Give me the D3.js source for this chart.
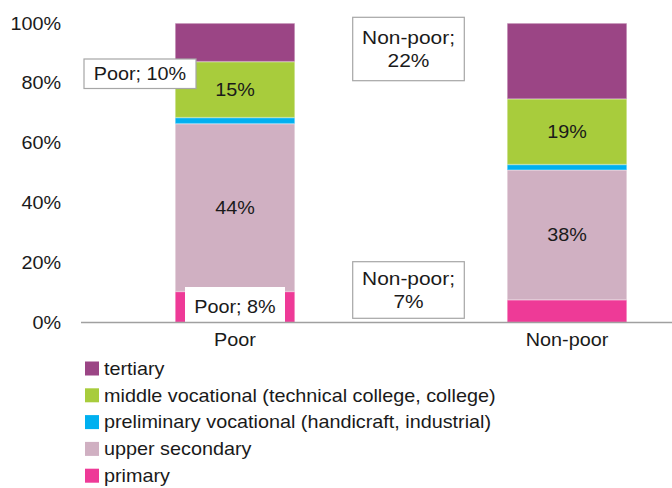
<!DOCTYPE html>
<html>
<head>
<meta charset="utf-8">
<script src="https://cdn.jsdelivr.net/npm/d3@7"></script>
<style>
  html, body { margin: 0; padding: 0; background: #fff; }
  svg { display: block; font-family: "Liberation Sans", Arial, sans-serif; }
</style>
</head>
<body>
<svg id="chart" width="672" height="488"></svg>
<script>
// Education level shares, poor vs non-poor households (per cent of respondents)
const groups = ["Poor", "Non-poor"];
const levels = [
  "primary",
  "upper secondary",
  "preliminary vocational (handicraft, industrial)",
  "middle vocational (technical college, college)",
  "tertiary"
];
const primary = [8.1, 6.6];
const upperSecondary = [43.8, 37.8];
const preliminaryVocational = [1.6, 1.6];
const middleVocational = [14.6, 19.1];
const tertiary = [10.0, 22.0];
const yTicks = [0, 0.2, 0.4, 0.6, 0.8, 1];

const colors = ["#EE3A97", "#D0B0C2", "#00B0F0", "#A8CC3C", "#9B4585"];

const FS = 18;      // base font size
const SX = 1.1;     // horizontal text widening
const INK = "#1a1a1a";

const seriesValues = [primary, upperSecondary, preliminaryVocational, middleVocational, tertiary];
const rows = groups.map((g, i) => {
  const r = { group: g };
  levels.forEach((l, k) => { r[l] = seriesValues[k][i]; });
  return r;
});

// move x/y of text into a transform so the glyphs can be widened
function widen(sel) {
  sel.each(function () {
    const t = d3.select(this);
    const x = +t.attr("x") || 0, y = +t.attr("y") || 0;
    t.attr("x", null).attr("y", null)
      .attr("transform", `translate(${x},${y}) scale(${SX},1)`);
  });
}

const svg = d3.select("#chart");
const x = d3.scaleBand().domain(groups).range([69, 733]).paddingInner(0.64).paddingOuter(0.32);
const y = d3.scaleLinear().domain([0, 1]).range([322.5, 23.3]);
const color = d3.scaleOrdinal().domain(levels).range(colors);

const stacked = d3.stack().keys(levels).offset(d3.stackOffsetExpand)(rows);

// stacked bars
const layer = svg.append("g").selectAll("g").data(stacked).join("g")
  .attr("fill", d => color(d.key));
layer.selectAll("rect").data(d => d).join("rect")
  .attr("x", d => x(d.data.group))
  .attr("width", x.bandwidth())
  .attr("y", d => y(d[1]))
  .attr("height", d => y(d[0]) - y(d[1]))
  .attr("stroke", "rgba(255,255,255,0.25)")
  .attr("stroke-width", 1.5);

// y axis labels (no axis line)
const yAxis = svg.append("g").attr("transform", "translate(61,0)")
  .call(d3.axisLeft(y).tickValues(yTicks).tickFormat(d3.format(".0%")).tickSize(0).tickPadding(0));
yAxis.select(".domain").remove();
yAxis.selectAll("text").attr("font-size", FS).attr("fill", INK)
  .attr("font-family", "Liberation Sans, Arial, sans-serif").call(widen);

// x axis labels
const xAxis = svg.append("g").attr("transform", "translate(0,322.5)")
  .call(d3.axisBottom(x).tickSize(0).tickPadding(11));
xAxis.select(".domain").remove();
xAxis.selectAll("text").attr("font-size", FS).attr("fill", INK)
  .attr("font-family", "Liberation Sans, Arial, sans-serif").call(widen);

const pct = d3.format(".0f");
const mid = d => (y(d[0]) + y(d[1])) / 2;

// value labels inside the larger segments
const inside = ["upper secondary", "middle vocational (technical college, college)"];
stacked.filter(s => inside.includes(s.key)).forEach(s => {
  svg.append("g").selectAll("text").data(s).join("text")
    .attr("x", d => x(d.data.group) + x.bandwidth() / 2)
    .attr("y", d => mid(d))
    .attr("dy", "0.35em")
    .attr("text-anchor", "middle")
    .attr("font-size", FS)
    .attr("fill", INK)
    .text(d => pct(d.data[s.key]) + "%")
    .call(widen);
});

// callout boxes with group name and value
function callout(lines, x0, y0, w, h, bordered, fs, ty) {
  const g = svg.append("g");
  g.append("rect").attr("x", x0).attr("y", y0).attr("width", w).attr("height", h)
    .attr("fill", "#fff")
    .attr("stroke", bordered ? "#a6a6a6" : "none").attr("stroke-width", 1.2);
  const lh = 23.5;
  const cy = (ty != null ? ty : y0 + h / 2) - (lines.length - 1) * lh / 2;
  lines.forEach((t, i) => {
    g.append("text").attr("x", x0 + w / 2).attr("y", cy + i * lh).attr("dy", "0.35em")
      .attr("text-anchor", "middle").attr("font-size", fs).attr("fill", INK).text(t)
      .call(widen);
  });
}
callout([groups[0] + "; " + pct(tertiary[0]) + "%"], 84, 59, 112, 29.5, true, FS);
callout([groups[0] + "; " + pct(primary[0]) + "%"], 185, 287, 100, 35.5, false, FS, 306.5);
callout([groups[1] + ";", pct(tertiary[1]) + "%"], 352.7, 17.3, 111.6, 63.4, true, 19);
callout([groups[1] + ";", pct(primary[1]) + "%"], 352.7, 261.7, 111.6, 56.6, true, 19);

// category axis baseline
svg.append("line")
  .attr("x1", 81).attr("x2", 672).attr("y1", 322.5).attr("y2", 322.5)
  .attr("stroke", "#a0a0a0").attr("stroke-width", 1.5);

// legend
const legendOrder = levels.slice().reverse();
const lg = svg.append("g").selectAll("g").data(legendOrder).join("g")
  .attr("transform", (d, i) => `translate(85,${368.5 + i * 26.8})`);
lg.append("rect").attr("x", 0).attr("y", -7).attr("width", 14).attr("height", 14)
  .attr("fill", d => color(d));
lg.append("text").attr("x", 19).attr("y", 0).attr("dy", "0.35em").attr("font-size", FS)
  .attr("fill", INK).text(d => d).call(widen);
</script>
</body>
</html>
